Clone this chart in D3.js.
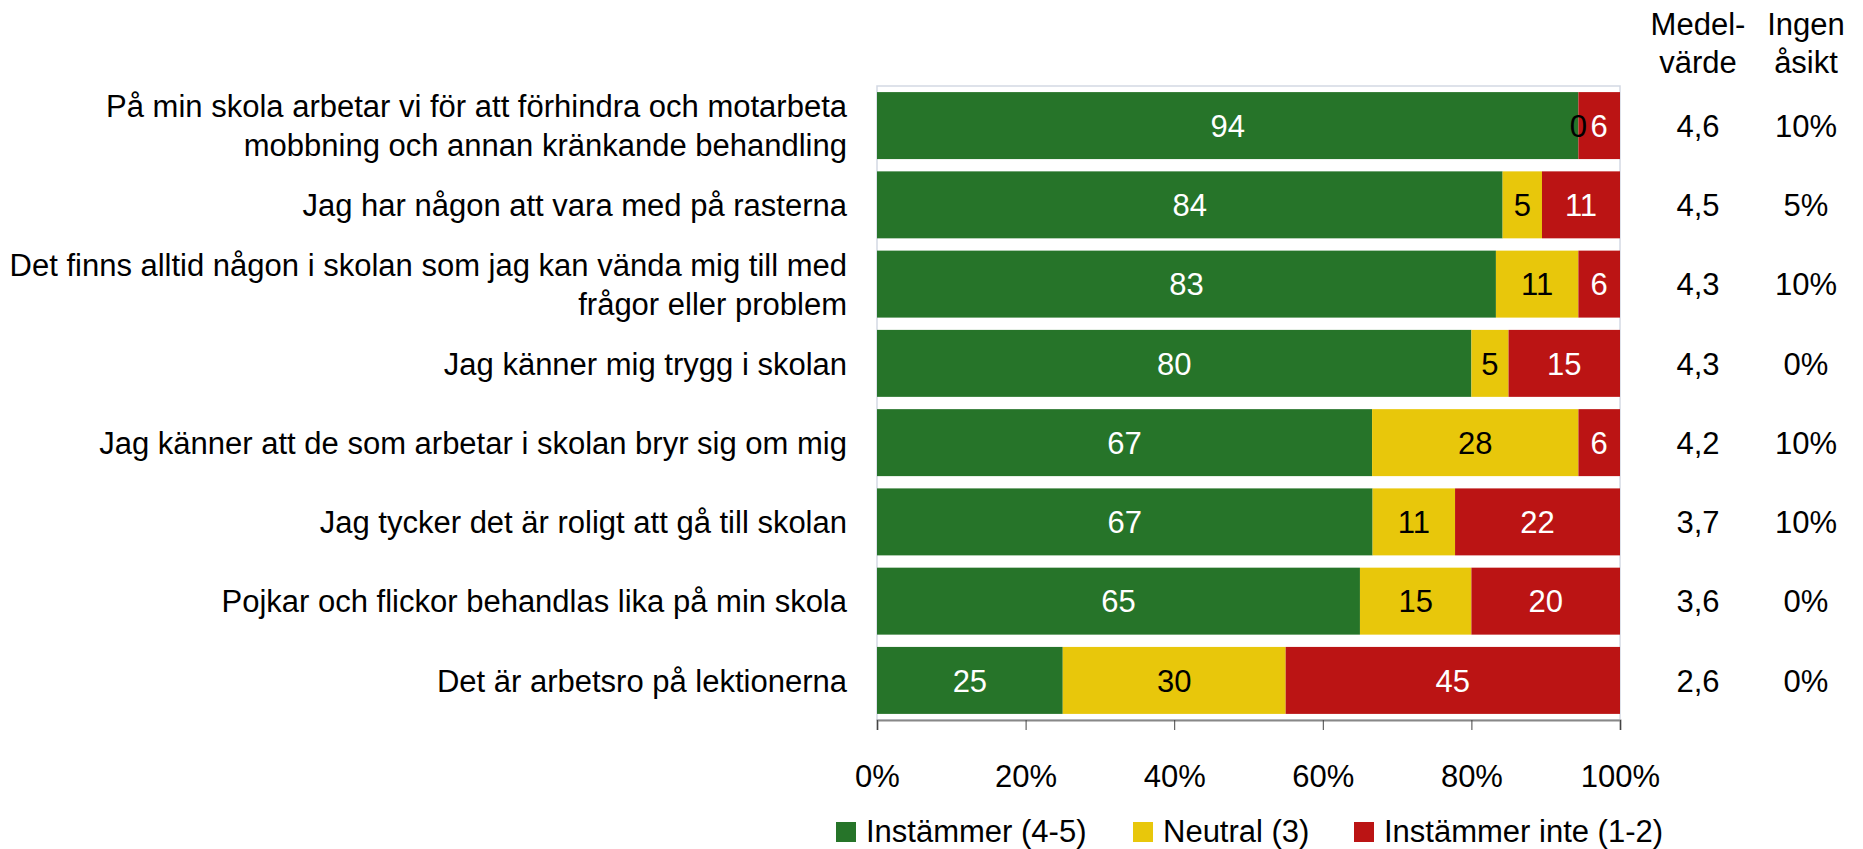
<!DOCTYPE html>
<html>
<head>
<meta charset="utf-8">
<script src="https://cdn.jsdelivr.net/npm/d3@7"></script>
<style>
  html, body { margin: 0; padding: 0; background: #fff; }
  svg text { font-family: "Liberation Sans", Arial, sans-serif; }
</style>
</head>
<body>
<svg id="chart" width="1863" height="849"></svg>
<script>
// Survey statements (top to bottom)
var categories = [
  ["På min skola arbetar vi för att förhindra och motarbeta", "mobbning och annan kränkande behandling"],
  ["Jag har någon att vara med på rasterna"],
  ["Det finns alltid någon i skolan som jag kan vända mig till med", "frågor eller problem"],
  ["Jag känner mig trygg i skolan"],
  ["Jag känner att de som arbetar i skolan bryr sig om mig"],
  ["Jag tycker det är roligt att gå till skolan"],
  ["Pojkar och flickor behandlas lika på min skola"],
  ["Det är arbetsro på lektionerna"]
];
// percentages (labels are rounded)
var agree = [94.4, 84.2, 83.3, 80, 66.7, 66.7, 65, 25];
var neutral = [0, 5.3, 11.1, 5, 27.8, 11.1, 15, 30];
var disagree = [5.6, 10.5, 5.6, 15, 5.6, 22.2, 20, 45];
var meanValues = ["4,6", "4,5", "4,3", "4,3", "4,2", "3,7", "3,6", "2,6"];
var noOpinion = ["10%", "5%", "10%", "0%", "10%", "10%", "0%", "0%"];
var seriesNames = ["Instämmer (4-5)", "Neutral (3)", "Instämmer inte (1-2)"];
var xTicks = [0, 0.2, 0.4, 0.6, 0.8, 1];

var colors = ["#267429", "#e8c70b", "#bb1414"];
var textColors = ["#fff", "#000", "#fff"];
var keys = ["agree", "neutral", "disagree"];

var rows = categories.map(function (c, i) {
  return { idx: i, agree: agree[i], neutral: neutral[i], disagree: disagree[i] };
});

var svg = d3.select("#chart");
var plotL = 877, plotR = 1620, plotT = 86, plotB = 720;
var fs = 31;

var x = d3.scaleLinear().domain([0, 1]).range([plotL, plotR]);
var y = d3.scaleBand().domain(d3.range(categories.length)).range([plotT, plotB]).paddingInner(0.155).paddingOuter(0.077);

var stacked = d3.stack().keys(keys).offset(d3.stackOffsetExpand)(rows);

// plot frame
svg.append("rect")
  .attr("x", plotL).attr("y", plotT)
  .attr("width", plotR - plotL).attr("height", plotB - plotT)
  .attr("fill", "none").attr("stroke", "#d3d9e4").attr("stroke-width", 1.5);

// bars
stacked.forEach(function (layer, k) {
  svg.append("g").selectAll("rect").data(layer).enter().append("rect")
    .attr("x", function (d) { return x(d[0]); })
    .attr("y", function (d, i) { return y(i); })
    .attr("width", function (d) { return x(d[1]) - x(d[0]); })
    .attr("height", y.bandwidth())
    .attr("fill", colors[k]);
});

// bar value labels
stacked.forEach(function (layer, k) {
  svg.append("g").selectAll("text").data(layer).enter().append("text")
    .attr("x", function (d) { return (x(d[0]) + x(d[1])) / 2; })
    .attr("y", function (d, i) { return y(i) + y.bandwidth() / 2; })
    .attr("dy", "0.36em")
    .attr("text-anchor", "middle")
    .attr("font-size", fs)
    .attr("fill", function (d) { return d.data[keys[k]] === 0 ? "#000" : textColors[k]; })
    .text(function (d) { return Math.round(d.data[keys[k]]); });
});

// category labels
var lineH = 39;
categories.forEach(function (lines, i) {
  var cy = y(i) + y.bandwidth() / 2;
  var t = svg.append("text")
    .attr("text-anchor", "end")
    .attr("font-size", fs)
    .attr("fill", "#000");
  lines.forEach(function (ln, j) {
    t.append("tspan")
      .attr("x", plotL - 30)
      .attr("y", cy + (j - (lines.length - 1) / 2) * lineH)
      .attr("dy", "0.36em")
      .text(ln);
  });
});

// x axis
var axis = svg.append("g").attr("transform", "translate(0," + plotB + ")")
  .call(d3.axisBottom(x).tickValues(xTicks).tickFormat(d3.format(".0%")).tickSize(10).tickPadding(35));
axis.select(".domain").attr("stroke", "#888").attr("stroke-width", 2);
axis.selectAll(".tick line").attr("stroke", "#444");
axis.selectAll("text").attr("font-size", fs).attr("fill", "#000")
  .style("font-family", "'Liberation Sans', Arial, sans-serif");

// right-hand columns
var colX = [1698, 1806];
var headers = [["Medel-", "värde"], ["Ingen", "åsikt"]];
headers.forEach(function (h, c) {
  h.forEach(function (ln, j) {
    svg.append("text")
      .attr("x", colX[c]).attr("y", 35 + j * 38)
      .attr("text-anchor", "middle")
      .attr("font-size", fs)
      .text(ln);
  });
});
[meanValues, noOpinion].forEach(function (vals, c) {
  svg.append("g").selectAll("text").data(vals).enter().append("text")
    .attr("x", colX[c])
    .attr("y", function (d, i) { return y(i) + y.bandwidth() / 2; })
    .attr("dy", "0.36em")
    .attr("text-anchor", "middle")
    .attr("font-size", fs)
    .text(function (d) { return d; });
});

// legend
var legX = [836, 1133, 1354];
seriesNames.forEach(function (name, k) {
  var g = svg.append("g").attr("transform", "translate(" + legX[k] + ",831)");
  g.append("rect").attr("x", 0).attr("y", -9).attr("width", 20).attr("height", 20).attr("fill", colors[k]);
  g.append("text").attr("x", 30).attr("dy", "0.36em").attr("font-size", fs).text(name);
});
</script>
</body>
</html>
